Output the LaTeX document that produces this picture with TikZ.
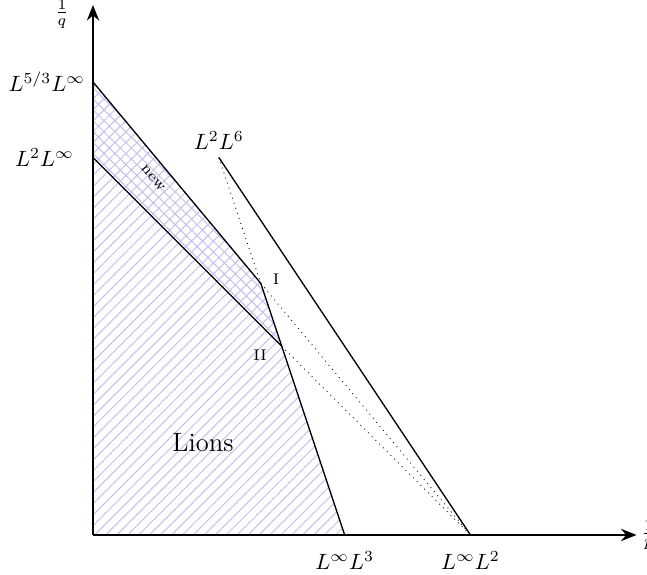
\documentclass[tikz,border=0pt]{standalone}
\usetikzlibrary{patterns.meta,arrows.meta}

\tikzset{
	hatchne/.style={pattern={Lines[angle=45,distance=3.5pt,line width=0.45pt]}, pattern color=blue!25},
	hatchnw/.style={pattern={Lines[angle=-45,distance=3.5pt,line width=0.45pt]}, pattern color=blue!25},
	axis/.style={very thick, -{Stealth[length=7pt,width=5.5pt]}},
	bound/.style={semithick},
}

\begin{document}
\begin{tikzpicture}[scale=12]
	\useasboundingbox (-0.1232, -0.053) rectangle (0.7338, 0.7086);
	
	% points of the diagram
	\coordinate (O) at (0, 0);
	\coordinate (A) at (0, 3/5);   % L^{5/3} L^infty
	\coordinate (B) at (0, 1/2);   % L^2 L^infty
	\coordinate (E) at (1/6, 1/2); % L^2 L^6
	\coordinate (I) at (2/9, 1/3);
	\coordinate (II) at (1/4, 1/4);
	\coordinate (C) at (1/3, 0);   % L^infty L^3
	\coordinate (D) at (1/2, 0);   % L^infty L^2
	\coordinate (xend) at (0.72, 0);
	\coordinate (yend) at (0, 0.702);
	
	% hatched regions
	\fill[hatchne] (O) -- (A) -- (I) -- (C) -- cycle;
	\fill[hatchnw] (B) -- (A) -- (I) -- (II) -- cycle;
	
	% axes
	\draw[axis] (O) -- (xend);
	\draw[axis] (O) -- (yend);
	\node[right, inner sep=2pt] (p) at (xend) {$\frac{1}{p}$};
	\node (q) at (-0.041, 0.690) {$\frac{1}{q}$};
	
	% boundary lines
	\draw[bound] (A) -- (I) -- (C);
	\draw[bound] (B) -- (II);
	\draw[bound] (E) -- (D);
	
	% dotted lines
	\draw[dotted] (E) -- (I) -- (D);
	\draw[dotted] (II) -- (D);
	
	% labels
	\node[left] (la) at (A) {$L^{5/3}L^\infty$};
	\node[left] (lb) at (-0.015, 1/2) {$L^2L^\infty$};
	\node[above] (le) at (E) {$L^2L^6$};
	\node[below, yshift=-4pt] (lc) at (C) {$L^\infty L^3$};
	\node[below, yshift=-4pt] (ld) at (D) {$L^\infty L^2$};
	\node[font=\scriptsize] (li) at (0.2424, 0.339) {I};
	\node[font=\scriptsize] (lii) at (0.2212, 0.2384) {II};
	\node[font=\scriptsize, rotate=-50] (new) at (0.0795, 0.4728) {new};
	\node[font=\large] (lions) at (0.1457, 0.1219) {Lions};
\end{tikzpicture}
\end{document}
